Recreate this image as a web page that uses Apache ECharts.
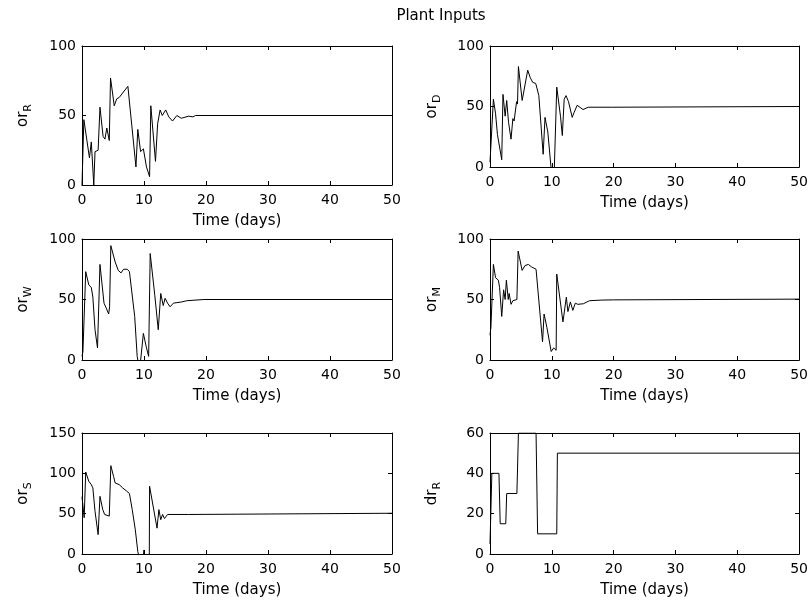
<!DOCTYPE html>
<html><head><meta charset="utf-8">
<script src="https://cdn.jsdelivr.net/npm/echarts@6/dist/echarts.min.js"></script>
<style>html,body{margin:0;padding:0;background:#fff}#c{width:811px;height:605px}</style>
</head><body><div id="c"></div>
<script>
// ---- data ----
const xTicks = [0, 10, 20, 30, 40, 50];
const titleText = 'Plant Inputs';
const xName = 'Time (days)';

const orR_t = [0, 0.2, 0.3, 1.2, 1.5, 1.9, 2.05, 2.1, 2.6, 2.9, 3.4, 3.7, 4.0, 4.4, 4.6, 5.2, 5.6, 6.0, 6.2, 7.4, 7.65, 8.7, 9.0, 9.45, 9.7, 9.9, 10.4, 10.9, 11.1, 11.85, 12.2, 12.6, 12.95, 13.5, 14.0, 14.6, 15.3, 16.0, 17.2, 17.9, 18.3, 50];
const orR_v = [0, 0, 47, 19.5, 31, 0, 0, 24, 25, 56, 35, 33, 41, 32, 77, 57, 62, 63, 64, 71, 71, 13, 40, 24, 23, 26, 13, 6, 57, 17, 44, 54, 50, 54, 49, 46, 50, 48, 49.5, 49, 50, 50];

const orD_t = [0, 0.25, 0.55, 0.9, 1.2, 1.45, 1.9, 2.1, 2.45, 2.7, 3.0, 3.4, 3.7, 3.9, 4.3, 4.45, 4.6, 5.2, 5.4, 6.1, 6.5, 6.9, 7.4, 7.9, 8.6, 8.9, 9.35, 9.9, 10.4, 10.8, 11.4, 11.7, 12.0, 12.3, 12.7, 13.3, 13.6, 14.1, 15.05, 15.9, 19.7, 19.8, 50];
const orD_v = [4, 4, 56, 44, 27, 26, 6, 60, 42, 55, 37, 23, 40, 38, 54, 52, 83, 55, 55, 80, 74, 70, 69, 59, 10.5, 41, 29, -2, -2, 66, 42, 26, 56, 59, 54, 41, 45, 51, 47.5, 49.4, 49.4, 50, 50];

const orW_t = [0, 0.15, 0.6, 1.1, 1.5, 1.75, 2.1, 2.5, 2.9, 3.55, 3.9, 4.3, 4.45, 4.65, 5.35, 5.85, 6.3, 6.7, 7.3, 7.65, 8.5, 8.9, 9.3, 9.9, 10.4, 10.55, 10.75, 11.0, 11.75, 12.3, 12.7, 13.1, 13.4, 13.8, 14.2, 14.75, 16.1, 16.9, 19.7, 50];
const orW_v = [3, 7, 73, 62, 60, 52, 25, 10, 79, 47, 43, 38, 44, 94.5, 81, 74, 72, 75, 75, 73, 36, 3, -8, 22, 10, 11, 3, 88, 53, 25, 55, 45, 51, 47, 44, 47, 48, 49, 50, 50];

const orM_t = [0, 0.15, 0.55, 0.9, 1.35, 1.55, 1.9, 2.2, 2.45, 2.65, 2.95, 3.1, 3.4, 3.7, 4.0, 4.35, 4.55, 5.2, 5.65, 6.2, 6.7, 7.45, 8.5, 8.75, 9.2, 9.9, 10.3, 10.7, 10.8, 11.8, 12.35, 12.6, 13.0, 13.4, 13.8, 14.2, 15.1, 16.1, 18.0, 20.0, 20.2, 50];
const orM_v = [20.5, 27, 79, 68, 66, 60, 36, 58, 50, 66, 50, 55, 46, 49, 48, 50, 90, 74, 78, 79, 77, 75, 15, 38, 27, 7, 10, 8, 71, 31.5, 52, 40, 48, 41, 47, 46, 46.5, 49, 49.5, 49.7, 50.3, 50.3];

const orS_t = [0, 0.27, 0.35, 0.6, 0.85, 1.1, 1.5, 1.75, 2.1, 2.6, 2.9, 3.35, 3.65, 4.4, 4.55, 4.65, 5.1, 5.35, 6.0, 6.55, 7.2, 7.65, 8.1, 8.6, 9.0, 9.4, 9.9, 10.0, 10.1, 10.85, 10.9, 12.1, 12.25, 12.4, 12.7, 13.0, 13.3, 13.8, 14.1, 15.0, 17.2, 17.4, 50];
const orS_v = [71, 51, 45, 101.6, 101, 90, 86, 82, 53, 24, 71.5, 55, 49, 47, 45, 109.5, 96, 88, 86, 82, 78, 75, 55, 30, 3, -10, -3, 5, -10, -10, 84, 32, 34, 55, 42.5, 49, 44, 49, 47, 49, 49, 50.5, 50.5];

const drR_t = [0, 0.25, 0.3, 1.45, 1.65, 2.55, 2.7, 4.35, 4.6, 7.45, 7.7, 10.8, 10.9, 50];
const drR_v = [5, 5, 40, 40, 15, 15, 30, 30, 60, 60, 10, 10, 50, 50];

// panels: label, subscript, data, y-range
const panelData = [
  { label: 'or', sub: 'R', t: orR_t, v: orR_v, ymax: 100, ystep: 50 },
  { label: 'or', sub: 'D', t: orD_t, v: orD_v, ymax: 100, ystep: 50 },
  { label: 'or', sub: 'W', t: orW_t, v: orW_v, ymax: 100, ystep: 50 },
  { label: 'or', sub: 'M', t: orM_t, v: orM_v, ymax: 100, ystep: 50 },
  { label: 'or', sub: 'S', t: orS_t, v: orS_v, ymax: 150, ystep: 50 },
  { label: 'dr', sub: 'R', t: drR_t, v: drR_v, ymax: 60, ystep: 20 }
];

// ---- layout ----
const layout = [
  { left: 82, top: 46, width: 310, height: 139 },
  { left: 490, top: 46, width: 310, height: 121 },
  { left: 82, top: 239, width: 310, height: 121 },
  { left: 490, top: 239, width: 310, height: 121 },
  { left: 82, top: 433, width: 310, height: 121 },
  { left: 490, top: 433, width: 310, height: 121 }
];
const nameGaps = [48, 47, 48, 47, 48, 47];

const FONT = 'DejaVu Sans';
const grids = [], xAxes = [], yAxes = [], series = [];
const lineCommon = { show: true, onZero: false, lineStyle: { color: '#000', width: 1 } };
const tickCommon = { show: true, inside: true, length: 4, lineStyle: { color: '#000', width: 1 } };

panelData.forEach((p, i) => {
  grids.push(Object.assign({ containLabel: false, show: false }, layout[i]));
  xAxes.push({
    type: 'value', gridIndex: i, position: 'bottom',
    min: xTicks[0], max: xTicks[xTicks.length - 1], interval: xTicks[1] - xTicks[0],
    axisLine: lineCommon, axisTick: tickCommon, splitLine: { show: false },
    axisLabel: { color: '#000', fontFamily: FONT, fontSize: 14, margin: 8 },
    name: xName, nameLocation: 'middle', nameGap: 29,
    nameTextStyle: { color: '#000', fontFamily: FONT, fontSize: 15 }
  });
  xAxes.push({
    type: 'value', gridIndex: i, position: 'top',
    min: xTicks[0], max: xTicks[xTicks.length - 1], interval: xTicks[1] - xTicks[0],
    axisLine: lineCommon, axisTick: tickCommon, splitLine: { show: false },
    axisLabel: { show: false }
  });
  yAxes.push({
    type: 'value', gridIndex: i, position: 'left',
    min: 0, max: p.ymax, interval: p.ystep,
    axisLine: lineCommon, axisTick: tickCommon, splitLine: { show: false },
    axisLabel: { color: '#000', fontFamily: FONT, fontSize: 14, margin: 6 },
    name: '{m|' + p.label + '}{s|' + p.sub + '}', nameLocation: 'middle', nameGap: nameGaps[i],
    nameTextStyle: {
      color: '#000', fontFamily: FONT, fontSize: 15,
      rich: {
        m: { color: '#000', fontFamily: FONT, fontSize: 15 },
        s: { color: '#000', fontFamily: FONT, fontSize: 11, padding: [11, 0, 0, 0] }
      }
    }
  });
  yAxes.push({
    type: 'value', gridIndex: i, position: 'right',
    min: 0, max: p.ymax, interval: p.ystep,
    axisLine: lineCommon, axisTick: tickCommon, splitLine: { show: false },
    axisLabel: { show: false }
  });
  series.push({
    type: 'line', xAxisIndex: 2 * i, yAxisIndex: 2 * i,
    data: p.t.map((t, k) => [t, p.v[k]]),
    showSymbol: false, symbol: 'none', clip: true,
    lineStyle: { color: '#000', width: 1 }
  });
});

const chart = echarts.init(document.getElementById('c'), null, { renderer: 'canvas' });
chart.setOption({
  animation: false,
  backgroundColor: '#fff',
  grid: grids, xAxis: xAxes, yAxis: yAxes, series: series,
  graphic: [{
    type: 'text', x: 441, y: 16,
    style: { text: titleText, fill: '#000', font: '15px "DejaVu Sans"', textAlign: 'center', textVerticalAlign: 'middle' }
  }]
});
</script></body></html>
